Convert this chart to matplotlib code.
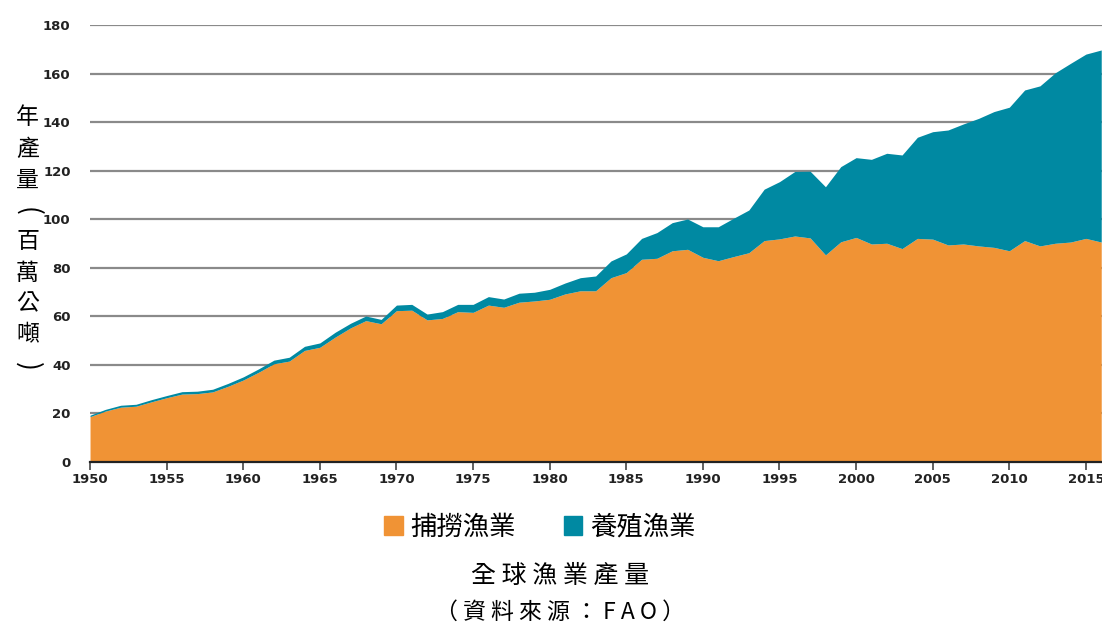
import matplotlib.pyplot as plt
from matplotlib.patches import Patch
import numpy as np

years = list(range(1950, 2017))
capture = [18.7, 21.0, 22.6, 23.0, 24.8, 26.5, 28.0, 28.2, 28.9, 31.2,
           33.8, 37.0, 40.5, 41.6, 46.0, 47.3, 51.5, 55.3, 58.3, 57.0,
           62.4, 62.6, 58.6, 59.2, 62.0, 61.7, 64.7, 63.8, 65.9, 66.4,
           67.1, 69.3, 70.6, 70.6, 76.0, 78.1, 83.6, 84.0, 87.1, 87.7,
           84.4, 83.0, 84.7, 86.3, 91.3, 92.0, 93.2, 92.4, 85.4, 90.8,
           92.6, 89.9, 90.2, 88.0, 92.2, 91.9, 89.5, 89.9, 89.1, 88.5,
           87.1, 91.3, 89.1, 90.2, 90.7, 92.2, 90.7]
total = [19.3, 21.7, 23.4, 23.8, 25.7, 27.4, 29.0, 29.2, 30.0, 32.4,
         35.1, 38.4, 42.0, 43.2, 47.7, 49.1, 53.5, 57.2, 60.2, 58.8,
         64.7, 65.0, 61.0, 62.0, 65.0, 65.0, 68.2, 67.2, 69.6, 70.0,
         71.2, 73.8, 76.0, 76.7, 82.9, 85.8, 92.2, 94.6, 98.7, 100.2,
         97.0, 97.0, 100.5, 103.9, 112.5, 115.6, 119.8, 119.9, 113.5, 121.8,
         125.5, 124.8, 127.3, 126.6, 133.9, 136.2, 136.9, 139.4, 141.7, 144.5,
         146.3, 153.4, 155.1, 160.5, 164.4, 168.2, 169.9]
xticks = list(range(1950, 2016, 5))
yticks = list(range(0, 181, 20))
series_names = ['捕撈漁業', '養殖漁業']
ylabel = ['年', '產', '量', '(', '百', '萬', '公', '噸', ')']
title = '全球漁業產量'
source = '（資料來源：FAO）'

ORANGE = '#F09335'; TEAL = '#0089A2'
CJK = ['Noto Sans CJK TC', 'DejaVu Sans']

fig = plt.figure(figsize=(11.02, 6.29), dpi=100)
ax = fig.add_axes([0.0817, 0.2655, 1 - 0.0817, 0.9595 - 0.2655])

ax.fill_between(years, 0, capture, color=ORANGE, lw=0, zorder=2)
ax.fill_between(years, capture, total, color=TEAL, lw=0, zorder=2)

ax.set_xlim(1950, 2016.05); ax.set_ylim(0, 180)
ax.set_yticks(yticks); ax.set_xticks(xticks)
ax.grid(axis='y', color='#8a8a8a', lw=1.6, zorder=1)
for s in ['top', 'right', 'left']: ax.spines[s].set_visible(False)
ax.spines['bottom'].set_color('#222222'); ax.spines['bottom'].set_linewidth(1.6); ax.spines['bottom'].set_zorder(3)
ax.tick_params(axis='y', length=0, pad=14)
ax.tick_params(axis='x', length=6, width=1.2, color='#444444', pad=2, direction='out')
for lab in ax.get_xticklabels() + ax.get_yticklabels():
    lab.set_fontweight('bold'); lab.set_fontsize(9.5); lab.set_color('#222222')

# vertical y label, one glyph per line, brackets turned to vertical form
for i, ch in enumerate(ylabel):
    paren = ch in '()'
    fig.text(0.025, 1 - (118 + 31 * i) / 629, ch, family=CJK, fontsize=19 if paren else 16.5,
             ha='center', va='center', rotation=-90 if paren else 0, rotation_mode='anchor' if paren else 'default')

handles = [Patch(color=ORANGE), Patch(color=TEAL)]
fig.legend(handles, series_names, loc='center', bbox_to_anchor=(0.49, 0.162), ncol=2, frameon=False,
           prop={'family': CJK, 'size': 19}, handlelength=0.7, handleheight=0.7, handletextpad=0.3, columnspacing=1.8)
fig.text(0.508, 0.085, ' '.join(title), family=CJK, fontsize=18, ha='center', va='center')
fig.text(0.508, 0.027, ' '.join(source), family=CJK, fontsize=16.5, ha='center', va='center')

fig.savefig('out.png', dpi=100)
